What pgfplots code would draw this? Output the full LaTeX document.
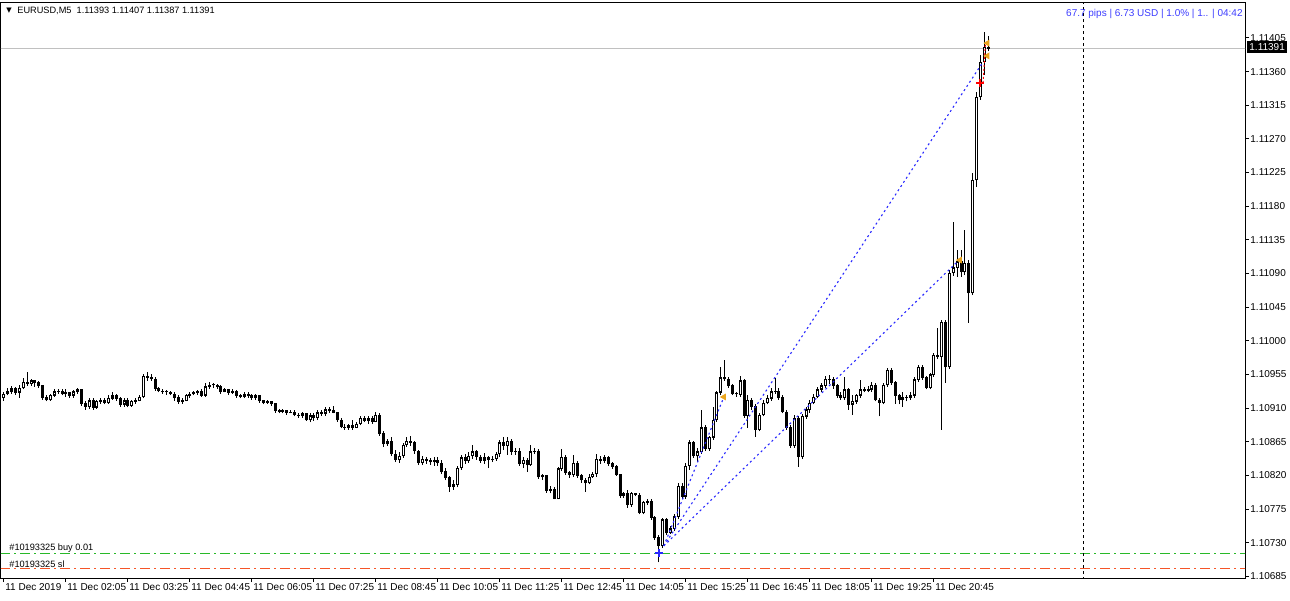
\documentclass[border=0pt]{standalone}
\usepackage{pgfplots}
\usepackage{pgfplotstable}
\pgfplotsset{compat=1.18}
\usepackage{fontspec}
\setmainfont{Liberation Sans}
\newfontfamily\symfont{DejaVu Sans}
\definecolor{tradeblue}{RGB}{40,40,255}
\definecolor{infoblue}{RGB}{60,60,255}
\definecolor{entrygreen}{RGB}{40,185,40}
\definecolor{slred}{RGB}{245,85,40}
\definecolor{closeorange}{RGB}{235,165,30}
\definecolor{bidgray}{RGB}{192,192,192}

\pgfplotstableread{
i o h l c
0 1.10924 1.10932 1.10920 1.10929
1 1.10929 1.10937 1.10927 1.10932
2 1.10932 1.10940 1.10929 1.10936
3 1.10936 1.10939 1.10928 1.10931
4 1.10931 1.10941 1.10924 1.10937
5 1.10937 1.10951 1.10935 1.10945
6 1.10945 1.10959 1.10940 1.10943
7 1.10943 1.10949 1.10940 1.10947
8 1.10947 1.10948 1.10939 1.10944
9 1.10944 1.10947 1.10937 1.10940
10 1.10940 1.10941 1.10921 1.10924
11 1.10924 1.10927 1.10919 1.10921
12 1.10921 1.10929 1.10920 1.10927
13 1.10927 1.10935 1.10925 1.10932
14 1.10932 1.10936 1.10929 1.10933
15 1.10933 1.10936 1.10927 1.10929
16 1.10929 1.10935 1.10925 1.10931
17 1.10931 1.10932 1.10924 1.10927
18 1.10927 1.10935 1.10924 1.10932
19 1.10932 1.10937 1.10929 1.10935
20 1.10935 1.10936 1.10913 1.10916
21 1.10916 1.10919 1.10908 1.10912
22 1.10912 1.10923 1.10909 1.10920
23 1.10920 1.10924 1.10908 1.10911
24 1.10911 1.10921 1.10909 1.10919
25 1.10919 1.10924 1.10916 1.10920
26 1.10920 1.10923 1.10915 1.10917
27 1.10917 1.10927 1.10916 1.10923
28 1.10923 1.10932 1.10921 1.10927
29 1.10927 1.10929 1.10920 1.10923
30 1.10923 1.10925 1.10912 1.10915
31 1.10915 1.10924 1.10912 1.10920
32 1.10920 1.10923 1.10911 1.10913
33 1.10913 1.10921 1.10912 1.10919
34 1.10919 1.10924 1.10916 1.10920
35 1.10920 1.10928 1.10919 1.10925
36 1.10925 1.10956 1.10923 1.10953
37 1.10953 1.10959 1.10947 1.10951
38 1.10951 1.10956 1.10947 1.10949
39 1.10949 1.10952 1.10933 1.10936
40 1.10936 1.10939 1.10931 1.10933
41 1.10933 1.10936 1.10929 1.10932
42 1.10932 1.10935 1.10928 1.10931
43 1.10931 1.10933 1.10927 1.10929
44 1.10929 1.10932 1.10920 1.10924
45 1.10924 1.10927 1.10916 1.10919
46 1.10919 1.10923 1.10916 1.10920
47 1.10920 1.10929 1.10919 1.10927
48 1.10927 1.10932 1.10924 1.10929
49 1.10929 1.10933 1.10927 1.10931
50 1.10931 1.10935 1.10928 1.10932
51 1.10932 1.10936 1.10925 1.10927
52 1.10927 1.10944 1.10925 1.10939
53 1.10939 1.10945 1.10936 1.10941
54 1.10941 1.10944 1.10937 1.10940
55 1.10940 1.10943 1.10936 1.10939
56 1.10939 1.10941 1.10929 1.10932
57 1.10932 1.10937 1.10931 1.10935
58 1.10935 1.10936 1.10928 1.10931
59 1.10931 1.10936 1.10929 1.10933
60 1.10933 1.10935 1.10924 1.10927
61 1.10927 1.10929 1.10923 1.10925
62 1.10925 1.10932 1.10923 1.10929
63 1.10929 1.10931 1.10924 1.10927
64 1.10927 1.10929 1.10921 1.10924
65 1.10924 1.10929 1.10921 1.10927
66 1.10927 1.10928 1.10917 1.10920
67 1.10920 1.10921 1.10915 1.10917
68 1.10917 1.10921 1.10916 1.10919
69 1.10919 1.10920 1.10913 1.10916
70 1.10916 1.10917 1.10904 1.10907
71 1.10907 1.10909 1.10903 1.10905
72 1.10905 1.10909 1.10903 1.10907
73 1.10907 1.10908 1.10901 1.10904
74 1.10904 1.10908 1.10903 1.10905
75 1.10905 1.10907 1.10899 1.10901
76 1.10901 1.10904 1.10897 1.10900
77 1.10900 1.10905 1.10897 1.10903
78 1.10903 1.10904 1.10893 1.10894
79 1.10894 1.10903 1.10891 1.10900
80 1.10900 1.10903 1.10893 1.10897
81 1.10897 1.10907 1.10894 1.10904
82 1.10904 1.10907 1.10900 1.10903
83 1.10903 1.10911 1.10900 1.10908
84 1.10908 1.10911 1.10904 1.10907
85 1.10907 1.10913 1.10903 1.10904
86 1.10904 1.10905 1.10892 1.10894
87 1.10894 1.10897 1.10883 1.10885
88 1.10885 1.10889 1.10881 1.10884
89 1.10884 1.10889 1.10881 1.10887
90 1.10887 1.10894 1.10881 1.10884
91 1.10884 1.10892 1.10883 1.10889
92 1.10889 1.10900 1.10887 1.10897
93 1.10897 1.10900 1.10891 1.10893
94 1.10893 1.10900 1.10889 1.10897
95 1.10897 1.10899 1.10889 1.10892
96 1.10892 1.10905 1.10891 1.10901
97 1.10901 1.10903 1.10873 1.10876
98 1.10876 1.10879 1.10858 1.10862
99 1.10862 1.10869 1.10860 1.10866
100 1.10866 1.10871 1.10846 1.10849
101 1.10849 1.10854 1.10838 1.10841
102 1.10841 1.10852 1.10837 1.10846
103 1.10846 1.10864 1.10844 1.10861
104 1.10861 1.10872 1.10858 1.10866
105 1.10866 1.10873 1.10860 1.10864
106 1.10864 1.10866 1.10849 1.10853
107 1.10853 1.10854 1.10834 1.10837
108 1.10837 1.10846 1.10834 1.10842
109 1.10842 1.10845 1.10836 1.10840
110 1.10840 1.10844 1.10834 1.10838
111 1.10838 1.10845 1.10833 1.10841
112 1.10841 1.10845 1.10833 1.10837
113 1.10837 1.10841 1.10822 1.10825
114 1.10825 1.10830 1.10814 1.10817
115 1.10817 1.10820 1.10798 1.10805
116 1.10805 1.10814 1.10801 1.10808
117 1.10808 1.10833 1.10804 1.10830
118 1.10830 1.10848 1.10828 1.10844
119 1.10844 1.10849 1.10836 1.10840
120 1.10840 1.10852 1.10837 1.10846
121 1.10846 1.10861 1.10842 1.10852
122 1.10852 1.10854 1.10841 1.10845
123 1.10845 1.10848 1.10837 1.10840
124 1.10840 1.10850 1.10836 1.10844
125 1.10844 1.10846 1.10830 1.10841
126 1.10841 1.10846 1.10838 1.10842
127 1.10842 1.10852 1.10840 1.10849
128 1.10849 1.10868 1.10845 1.10864
129 1.10864 1.10871 1.10854 1.10860
130 1.10860 1.10872 1.10848 1.10866
131 1.10866 1.10869 1.10848 1.10852
132 1.10852 1.10857 1.10848 1.10853
133 1.10853 1.10857 1.10833 1.10836
134 1.10836 1.10845 1.10830 1.10841
135 1.10841 1.10844 1.10825 1.10834
136 1.10834 1.10861 1.10833 1.10852
137 1.10852 1.10857 1.10849 1.10853
138 1.10853 1.10856 1.10816 1.10818
139 1.10818 1.10822 1.10814 1.10820
140 1.10820 1.10821 1.10797 1.10800
141 1.10800 1.10806 1.10796 1.10802
142 1.10802 1.10804 1.10788 1.10789
143 1.10789 1.10832 1.10788 1.10829
144 1.10829 1.10856 1.10826 1.10845
145 1.10845 1.10848 1.10821 1.10824
146 1.10824 1.10826 1.10817 1.10821
147 1.10821 1.10848 1.10818 1.10837
148 1.10837 1.10840 1.10817 1.10820
149 1.10820 1.10822 1.10810 1.10814
150 1.10814 1.10817 1.10798 1.10810
151 1.10810 1.10822 1.10808 1.10818
152 1.10818 1.10825 1.10817 1.10822
153 1.10822 1.10849 1.10818 1.10842
154 1.10842 1.10846 1.10836 1.10840
155 1.10840 1.10848 1.10837 1.10844
156 1.10844 1.10846 1.10833 1.10836
157 1.10836 1.10838 1.10829 1.10832
158 1.10832 1.10834 1.10820 1.10821
159 1.10821 1.10822 1.10790 1.10793
160 1.10793 1.10798 1.10790 1.10796
161 1.10796 1.10800 1.10777 1.10781
162 1.10781 1.10798 1.10778 1.10796
163 1.10796 1.10797 1.10792 1.10794
164 1.10794 1.10796 1.10768 1.10770
165 1.10770 1.10786 1.10768 1.10784
166 1.10784 1.10788 1.10781 1.10785
167 1.10785 1.10788 1.10761 1.10764
168 1.10764 1.10766 1.10734 1.10737
169 1.10737 1.10741 1.10704 1.10726
170 1.10726 1.10763 1.10723 1.10761
171 1.10761 1.10763 1.10741 1.10743
172 1.10743 1.10753 1.10742 1.10749
173 1.10749 1.10768 1.10746 1.10765
174 1.10765 1.10810 1.10762 1.10806
175 1.10806 1.10810 1.10788 1.10792
176 1.10792 1.10837 1.10789 1.10833
177 1.10833 1.10868 1.10828 1.10864
178 1.10864 1.10866 1.10844 1.10846
179 1.10846 1.10857 1.10838 1.10852
180 1.10852 1.10908 1.10849 1.10884
181 1.10884 1.10887 1.10853 1.10856
182 1.10856 1.10873 1.10853 1.10871
183 1.10871 1.10912 1.10868 1.10894
184 1.10894 1.10933 1.10892 1.10931
185 1.10931 1.10965 1.10928 1.10951
186 1.10951 1.10975 1.10947 1.10949
187 1.10949 1.10952 1.10937 1.10940
188 1.10940 1.10943 1.10927 1.10929
189 1.10929 1.10932 1.10925 1.10928
190 1.10928 1.10953 1.10925 1.10947
191 1.10947 1.10949 1.10897 1.10900
192 1.10900 1.10927 1.10884 1.10921
193 1.10921 1.10924 1.10908 1.10912
194 1.10912 1.10915 1.10872 1.10881
195 1.10881 1.10904 1.10879 1.10901
196 1.10901 1.10921 1.10899 1.10917
197 1.10917 1.10927 1.10915 1.10923
198 1.10923 1.10937 1.10920 1.10932
199 1.10932 1.10951 1.10929 1.10933
200 1.10933 1.10937 1.10921 1.10924
201 1.10924 1.10927 1.10903 1.10905
202 1.10905 1.10908 1.10881 1.10884
203 1.10884 1.10888 1.10857 1.10860
204 1.10860 1.10901 1.10857 1.10897
205 1.10897 1.10900 1.10832 1.10845
206 1.10845 1.10902 1.10842 1.10899
207 1.10899 1.10912 1.10896 1.10908
208 1.10908 1.10921 1.10904 1.10917
209 1.10917 1.10929 1.10915 1.10925
210 1.10925 1.10939 1.10923 1.10935
211 1.10935 1.10944 1.10932 1.10940
212 1.10940 1.10953 1.10937 1.10949
213 1.10949 1.10955 1.10943 1.10948
214 1.10948 1.10952 1.10936 1.10940
215 1.10940 1.10943 1.10924 1.10927
216 1.10927 1.10931 1.10921 1.10924
217 1.10924 1.10952 1.10921 1.10935
218 1.10935 1.10937 1.10908 1.10915
219 1.10915 1.10928 1.10901 1.10919
220 1.10919 1.10929 1.10916 1.10927
221 1.10927 1.10948 1.10924 1.10935
222 1.10935 1.10939 1.10931 1.10933
223 1.10933 1.10940 1.10931 1.10935
224 1.10935 1.10945 1.10932 1.10941
225 1.10941 1.10944 1.10919 1.10921
226 1.10921 1.10924 1.10899 1.10917
227 1.10917 1.10944 1.10915 1.10941
228 1.10941 1.10964 1.10939 1.10961
229 1.10961 1.10964 1.10941 1.10944
230 1.10944 1.10947 1.10916 1.10927
231 1.10927 1.10929 1.10915 1.10921
232 1.10921 1.10931 1.10912 1.10925
233 1.10925 1.10928 1.10919 1.10924
234 1.10924 1.10931 1.10921 1.10927
235 1.10927 1.10952 1.10924 1.10948
236 1.10948 1.10968 1.10945 1.10965
237 1.10965 1.10968 1.10948 1.10951
238 1.10951 1.10953 1.10935 1.10937
239 1.10937 1.10957 1.10935 1.10955
240 1.10955 1.10984 1.10952 1.10981
241 1.10981 1.11017 1.10976 1.10979
242 1.10979 1.11028 1.10881 1.11025
243 1.11025 1.11028 1.10944 1.10965
244 1.10965 1.11095 1.10963 1.11091
245 1.11091 1.11159 1.11087 1.11098
246 1.11098 1.11122 1.11086 1.11106
247 1.11106 1.11122 1.11086 1.11092
248 1.11092 1.11148 1.11088 1.11104
249 1.11104 1.11108 1.11024 1.11064
250 1.11064 1.11225 1.11061 1.11215
251 1.11215 1.11333 1.11206 1.11326
252 1.11326 1.11382 1.11322 1.11373
253 1.11373 1.11413 1.11356 1.11393
254 1.11393 1.11407 1.11387 1.11391
}\candles

\pgfplotsset{
  candlepart/.style={draw=none, mark=none, forget plot,
    error bars/.cd, y dir=plus, y explicit, error mark=none,
    error bar style={draw=#1}},
}

\begin{document}
\begin{tikzpicture}
\begin{axis}[
  at={(0pt,0pt)}, anchor=south west,
  scale only axis, width=622pt, height=288pt,
  xmin=-0.77, xmax=320.3, ymin=1.10683, ymax=1.11453,
  axis line style={black, line width=0.5pt},
  tick align=outside, major tick length=2pt,
  tick style={black, line width=0.5pt},
  xtick pos=left, ytick pos=right,
  xticklabel pos=left, yticklabel pos=right,
  xtick={0,16,...,240},
  xticklabels={11 Dec 2019,11 Dec 02:05,11 Dec 03:25,11 Dec 04:45,11 Dec 06:05,11 Dec 07:25,11 Dec 08:45,11 Dec 10:05,11 Dec 11:25,11 Dec 12:45,11 Dec 14:05,11 Dec 15:25,11 Dec 16:45,11 Dec 18:05,11 Dec 19:25,11 Dec 20:45},
  ytick={1.10685,1.10730,1.10775,1.10820,1.10865,1.10910,1.10955,1.11000,1.11045,1.11090,1.11135,1.11180,1.11225,1.11270,1.11315,1.11360,1.11405},
  yticklabels={1.10685,1.10730,1.10775,1.10820,1.10865,1.10910,1.10955,1.11000,1.11045,1.11090,1.11135,1.11180,1.11225,1.11270,1.11315,1.11360,1.11405},
  ticklabel style={font=\fontsize{5}{6}\selectfont, inner sep=0.5pt},
  xticklabel style={anchor=north west},
  yticklabel style={anchor=west},
]
% horizontal / vertical lines
\addplot[draw=bidgray, line width=0.5pt] coordinates {(-1,1.11391) (330,1.11391)};
\addplot[draw=entrygreen, line width=0.75pt, dash pattern=on 5pt off 2pt on 1pt off 2pt] coordinates {(-1,1.10716) (330,1.10716)};
\addplot[draw=slred, line width=0.6pt, dash pattern=on 5pt off 2pt on 1pt off 2pt] coordinates {(-1,1.10696) (330,1.10696)};
\addplot[draw=black, line width=0.5pt, dash pattern=on 1.5pt off 1.5pt] coordinates {(278.5,1.1060) (278.5,1.1150)};

% wicks
\addplot[candlepart={black, line width=0.5pt}]
  table[x=i, y=l, y error plus expr={\thisrow{h}-\thisrow{l}}] {\candles};
% bodies
\addplot[candlepart={black, line width=1.5pt}]
  table[x=i, y expr={min(\thisrow{o},\thisrow{c})-0.000004}, y error plus expr={abs(\thisrow{c}-\thisrow{o})+0.000008}] {\candles};
% hollow interior of rising candles
\addplot[restrict y to domain=1:2, candlepart={white, line width=0.5pt}]
  table[x=i, y expr={(\thisrow{c}-\thisrow{o}>0.00004) ? \thisrow{o}+0.0000134 : 0}, y error plus expr={\thisrow{c}-\thisrow{o}-0.0000268}] {\candles};

% trade lines
\addplot[draw=tradeblue, line width=0.55pt, dash pattern=on 1pt off 1.5pt] coordinates {(170.3,1.10726) (185.8,1.10925)};
\addplot[draw=tradeblue, line width=0.55pt, dash pattern=on 1pt off 1.5pt] coordinates {(170.3,1.10726) (246.5,1.11108)};
\addplot[draw=tradeblue, line width=0.55pt, dash pattern=on 1pt off 1.5pt] coordinates {(170.3,1.10726) (252.7,1.11373)};
\addplot[draw=red, line width=0.5pt, dash pattern=on 1pt off 1pt] coordinates {(252.7,1.11345) (253.3,1.11398)};
% markers
\addplot[only marks, mark=triangle*, mark size=1.6pt, mark options={rotate=90, fill=closeorange, draw=closeorange}] coordinates {(185.8,1.10925) (246.7,1.11108) (253.8,1.11398) (253.8,1.11381)};
\addplot[only marks, mark=+, mark size=2pt, tradeblue, line width=1pt] coordinates {(169,1.10716)};
\addplot[only marks, mark=+, mark size=2pt, red, line width=1pt] coordinates {(251.9,1.11345)};
\end{axis}

\node[anchor=west, inner sep=0pt, font=\symfont\fontsize{3.5}{4}\selectfont] at (2.5pt,283.5pt) {▼};
\node[anchor=west, inner sep=0pt, font=\fontsize{4.6}{5.5}\selectfont] at (8pt,283.5pt) {EURUSD,M5\ \ 1.11393 1.11407 1.11387 1.11391};
\node[anchor=east, inner sep=0pt, text=infoblue, font=\fontsize{5}{6}\selectfont] at (621pt,282pt) {67.7 pips | 6.73 USD | 1.0\% | 1.. | 04:42};
\node[anchor=west, inner sep=0pt, font=\fontsize{4.6}{5.5}\selectfont] at (4pt,15pt) {\#10193325 buy 0.01};
\node[anchor=west, inner sep=0pt, font=\fontsize{4.6}{5.5}\selectfont] at (4pt,7pt) {\#10193325 sl};
\node[anchor=west, fill=black, text=white, inner xsep=1pt, inner ysep=0pt, minimum height=6pt, font=\fontsize{5}{6}\selectfont] at (623pt,265.5pt) {1.11391};

\pgfresetboundingbox
\path[use as bounding box] (-0.5pt,-11pt) rectangle (644.5pt,289pt);
\end{tikzpicture}
\end{document}
